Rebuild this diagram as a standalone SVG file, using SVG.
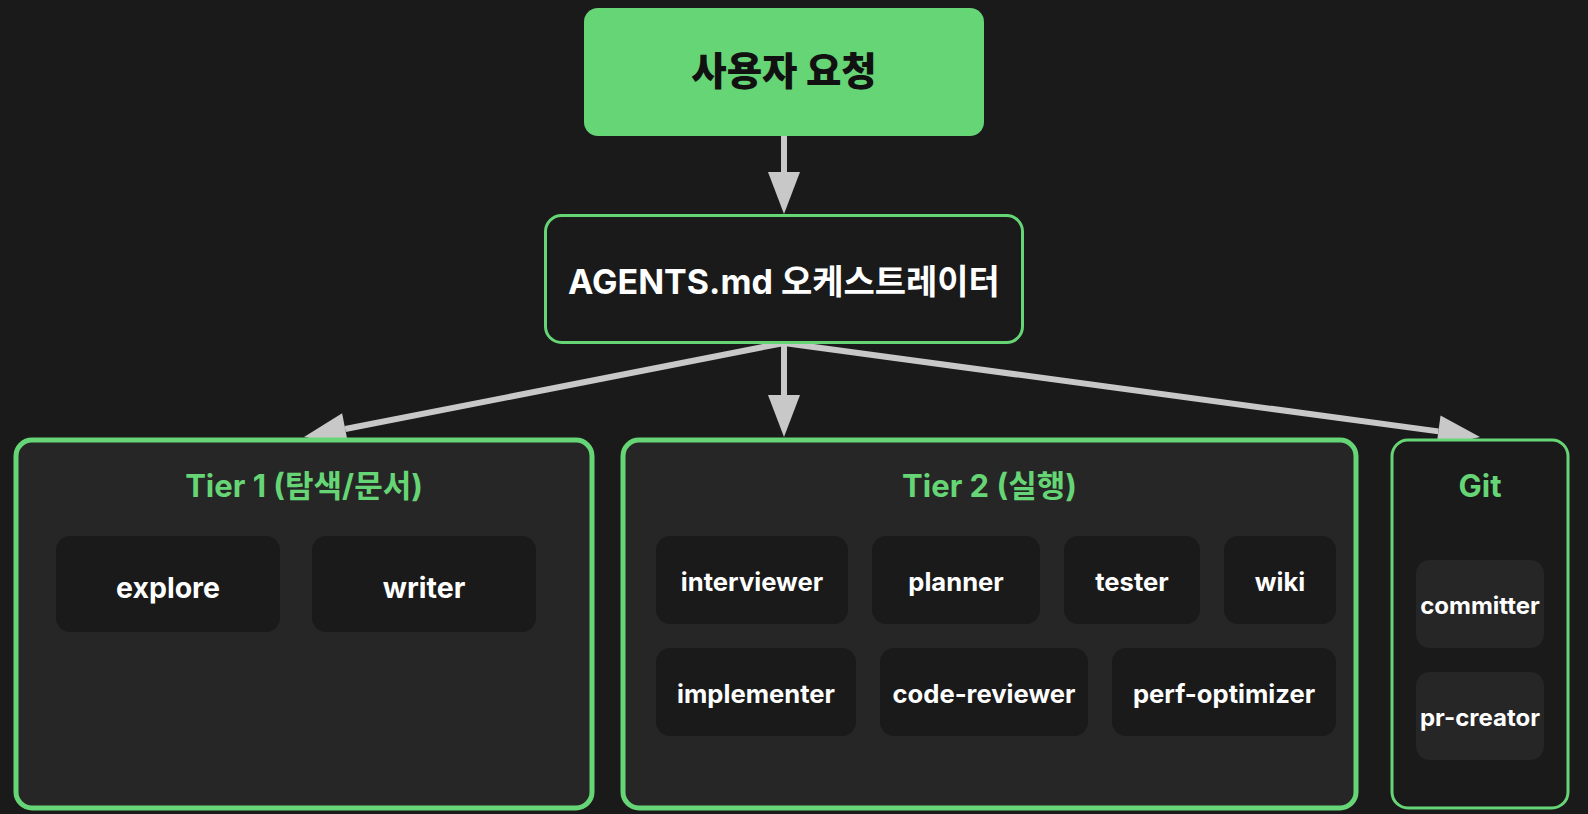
<svg xmlns="http://www.w3.org/2000/svg" width="1588" height="814" viewBox="0 0 1588 814">
  <style>
    text { font-family: Inter, "Noto Sans CJK KR", sans-serif; font-weight: 700; text-anchor: middle; dominant-baseline: central; }
    .start { fill: #66d575; }
    .startText { fill: #111111; font-size: 38.5px; font-weight: 800; }
    .orch { fill: #1a1a1a; stroke: #66d575; stroke-width: 3; }
    .orchText { fill: #ffffff; font-size: 34px; }
    .tier { fill: #262626; stroke: #66d575; stroke-width: 5; }
    .git { fill: #1a1a1a; stroke: #66d575; stroke-width: 3; }
    .title { fill: #66d575; font-size: 31px; }
    .agentDark { fill: #1a1a1a; }
    .agentLight { fill: #262626; }
    .t1 { fill: #ffffff; font-size: 28.5px; }
    .t2 { fill: #ffffff; font-size: 25.6px; }
    .tg { fill: #ffffff; font-size: 24px; }
    .edge { stroke: #c8c8c8; stroke-width: 6; fill: none; }
  </style>
  <defs>
    <marker id="arrow" markerUnits="userSpaceOnUse" markerWidth="44" markerHeight="34" refX="0" refY="16" orient="auto" overflow="visible">
      <path d="M0,0 L42,16 L0,32 Z" fill="#c8c8c8"/>
    </marker>
  </defs>
  <rect width="1588" height="814" fill="#1a1a1a"/>

  <g id="connectors">
    <line class="edge" x1="784" y1="136" x2="784" y2="172" marker-end="url(#arrow)"/>
    <line class="edge" x1="784" y1="343" x2="345.2" y2="429" marker-end="url(#arrow)"/>
    <line class="edge" x1="784" y1="343" x2="784" y2="395" marker-end="url(#arrow)"/>
    <line class="edge" x1="784" y1="343" x2="1438.4" y2="431.4" marker-end="url(#arrow)"/>
  </g>

  <g id="user-request">
    <rect class="start" x="584" y="8" width="400" height="128" rx="14"/>
    <text class="startText" x="784" y="71">사용자 요청</text>
  </g>

  <g id="orchestrator">
    <rect class="orch" x="545.5" y="215.5" width="477" height="127" rx="16"/>
    <text class="orchText" x="784" y="281">AGENTS.md 오케스트레이터</text>
  </g>

  <g id="tier1">
    <rect class="tier" x="16" y="440" width="576" height="368" rx="16"/>
    <text class="title" x="304" y="485">Tier 1 (탐색/문서)</text>
  </g>
  <g id="explore">
    <rect class="agentDark" x="56" y="536" width="224" height="96" rx="14"/>
    <text class="t1" x="168" y="587">explore</text>
  </g>
  <g id="writer">
    <rect class="agentDark" x="312" y="536" width="224" height="96" rx="14"/>
    <text class="t1" x="424" y="587">writer</text>
  </g>

  <g id="tier2">
    <rect class="tier" x="623" y="440" width="733" height="368" rx="16"/>
    <text class="title" x="989.5" y="485">Tier 2 (실행)</text>
  </g>
  <g id="interviewer">
    <rect class="agentDark" x="656" y="536" width="192" height="88" rx="14"/>
    <text class="t2" x="752" y="581">interviewer</text>
  </g>
  <g id="planner">
    <rect class="agentDark" x="872" y="536" width="168" height="88" rx="14"/>
    <text class="t2" x="956" y="581">planner</text>
  </g>
  <g id="tester">
    <rect class="agentDark" x="1064" y="536" width="136" height="88" rx="14"/>
    <text class="t2" x="1132" y="581">tester</text>
  </g>
  <g id="wiki">
    <rect class="agentDark" x="1224" y="536" width="112" height="88" rx="14"/>
    <text class="t2" x="1280" y="581">wiki</text>
  </g>
  <g id="implementer">
    <rect class="agentDark" x="656" y="648" width="200" height="88" rx="14"/>
    <text class="t2" x="756" y="693">implementer</text>
  </g>
  <g id="code-reviewer">
    <rect class="agentDark" x="880" y="648" width="208" height="88" rx="14"/>
    <text class="t2" x="984" y="693">code-reviewer</text>
  </g>
  <g id="perf-optimizer">
    <rect class="agentDark" x="1112" y="648" width="224" height="88" rx="14"/>
    <text class="t2" x="1224" y="693">perf-optimizer</text>
  </g>

  <g id="git">
    <rect class="git" x="1392" y="440" width="176" height="368" rx="16"/>
    <text class="title" x="1480" y="485">Git</text>
  </g>
  <g id="committer">
    <rect class="agentLight" x="1416" y="560" width="128" height="88" rx="14"/>
    <text class="tg" x="1480" y="605">committer</text>
  </g>
  <g id="pr-creator">
    <rect class="agentLight" x="1416" y="672" width="128" height="88" rx="14"/>
    <text class="tg" x="1480" y="717">pr-creator</text>
  </g>
</svg>
